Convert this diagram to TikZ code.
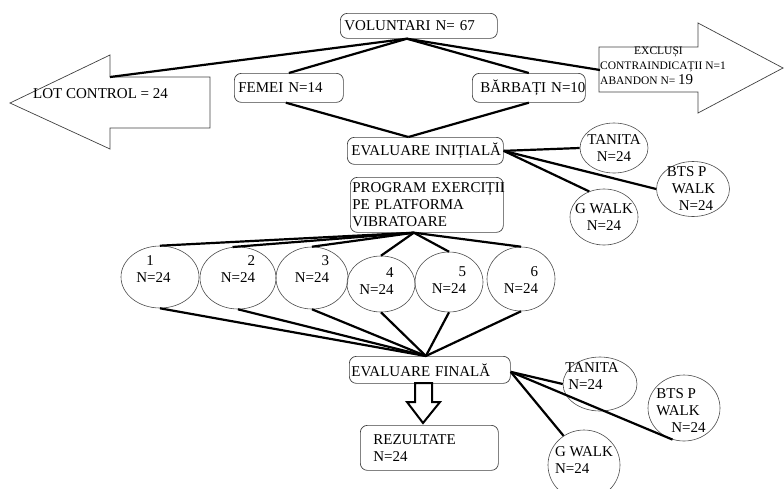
\documentclass[tikz,border=0pt]{standalone}
\usepackage{fontspec}
\setmainfont{Liberation Serif}
\usetikzlibrary{shapes.geometric}

\tikzset{
  rbox/.style={draw=black!75, line width=0.7pt, rounded corners=7pt, anchor=north west, align=left, inner xsep=4pt, inner ysep=0pt},
  oval/.style={ellipse, draw=black!70, line width=0.6pt, inner sep=0pt},
  conn/.style={line width=2.2pt},
  bigarrow/.style={draw=black!75, line width=0.7pt},
}

\begin{document}
\begin{tikzpicture}[x=1pt, y=-1pt, font=\fontsize{15}{17}\selectfont]
        \useasboundingbox (0,0) rectangle (784,488);

        % side arrows
        \draw[bigarrow] (210,77) -- (110,77) -- (110,55) -- (10,103) -- (110,149) -- (110,128) -- (210,128) -- cycle;
        \node[anchor=west, inner sep=0pt] (lot) at (33,94) {LOT CONTROL = 24};
        \coordinate (lottop) at (110,77);
        \draw[bigarrow] (599,47) -- (698,47) -- (698,23) -- (783,68) -- (698,113) -- (698,92) -- (599,92) -- cycle;
        \node[anchor=north west, align=left, inner sep=0pt, font=\fontsize{11.5}{15}\selectfont] (excl) at (600,47)
            {\hspace*{34pt}EXCLUȘI\\CONTRAINDICAȚII N=1\\ABANDON N= {\fontsize{15}{15}\selectfont 19}};
        \coordinate (excltop) at (600,70);

        % boxes
        \node[rbox, text width=149pt, minimum height=25pt] (vol) at (340,13) {\mbox{VOLUNTARI N= 67}};
        \node[rbox, text width=101pt, minimum height=29pt] (femei) at (234,73) {\mbox{FEMEI N=14}};
        \node[rbox, text width=105pt, minimum height=29pt] (barbati) at (472,73) {\hspace*{4pt}\mbox{BĂRBAȚI N=10}};
        \node[rbox, text width=148pt, minimum height=27pt] (evi) at (347,137) {\mbox{EVALUARE INIȚIALĂ}};
        \node[rbox, text width=149pt, inner xsep=2pt, minimum height=55pt] (prog) at (350,177)
            {\mbox{PROGRAM EXERCIȚII}\\PE PLATFORMA\\VIBRATOARE};
        \node[rbox, text width=157pt, inner xsep=2pt, minimum height=27pt] (evf) at (349,356) {\mbox{EVALUARE FINALĂ}};
        \node[rbox, text width=130pt, minimum height=45pt] (rez) at (360,425) {\hspace*{9pt}REZULTATE\\\hspace*{9pt}N=24};

        % tests after the first evaluation
        \node[oval, minimum width=68pt, minimum height=50pt, label={[align=center]center:TANITA\\N=24}] (tan1) at (614,148) {};
        \node[oval, minimum width=73pt, minimum height=55pt, label={[align=left,xshift=-2pt]center:BTS P\\\hspace*{5pt}WALK\\\hspace*{12pt}N=24}] (bts1) at (693,189) {};
        \node[oval, minimum width=68pt, minimum height=56pt, label={[align=center]center:G WALK\\N=24}] (gw1) at (604,217) {};

        % groups
        \node[oval, minimum width=78pt, minimum height=62pt, label={[align=left,xshift=-6.5pt,yshift=8pt]center:\hspace*{10pt}1\\N=24}] (c1) at (160,277) {};
        \node[oval, minimum width=76pt, minimum height=62pt, label={[align=right,yshift=9pt]center:2\\N=24}] (c2) at (238,278) {};
        \node[oval, minimum width=72pt, minimum height=62pt, label={[align=right,yshift=9pt]center:3\\N=24}] (c3) at (312,278) {};
        \node[oval, minimum width=68pt, minimum height=56pt, label={[align=right,xshift=-4.5pt,yshift=3pt]center:4\\N=24}] (c4) at (381,284) {};
        \node[oval, minimum width=68pt, minimum height=60pt, label={[align=right,yshift=2pt]center:5\\N=24}] (c5) at (449,282) {};
        \node[oval, minimum width=68pt, minimum height=64pt, label={[align=right,yshift=-1pt]center:6\\N=24}] (c6) at (521,279) {};

        % tests after the final evaluation
        \node[oval, minimum width=74pt, minimum height=54pt, label={[align=left,xshift=-8pt,yshift=8pt]center:TANITA\\\hspace*{3pt}N=24}] (tan2) at (600,384) {};
        \node[oval, minimum width=72pt, minimum height=66pt, label={[align=left,xshift=-3pt,yshift=-3pt]center:BTS P\\WALK\\\hspace*{15pt}N=24}] (bts2) at (684,408) {};
        \node[oval, minimum width=72pt, minimum height=70pt, label={[align=left,yshift=5pt]center:G WALK\\N=24}] (gw2) at (584,465) {};

        % connectors
        \draw[conn] ([xshift=-12pt]vol.south) -- (lottop);
        \draw[conn] ([xshift=-12pt]vol.south) -- (femei.north);
        \draw[conn] ([xshift=-12pt]vol.south) -- (barbati.north);
        \draw[conn] ([xshift=-12pt]vol.south) -- (excltop);
        \draw[conn] ([xshift=-3pt]femei.south) -- ([xshift=-17pt]evi.north);
        \draw[conn] (barbati.south) -- ([xshift=-17pt]evi.north);

        \draw[conn] (evi.east) -- (tan1.west);
        \draw[conn] (evi.east) -- (bts1.west);
        \draw[conn] (evi.east) -- (gw1.120);

        \draw[conn] ([xshift=-13pt]prog.south) -- (c1.north);
        \draw[conn] ([xshift=-13pt]prog.south) -- (c2.100);
        \draw[conn] ([xshift=-13pt]prog.south) -- (c3.north);
        \draw[conn] ([xshift=-13pt]prog.south) -- (c4.north);
        \draw[conn] ([xshift=-13pt]prog.south) -- (c5.north);
        \draw[conn] ([xshift=-13pt]prog.south) -- (c6.north);

        \draw[conn] (c1.south) -- ([xshift=-4pt]evf.north);
        \draw[conn] (c2.south) -- ([xshift=-4pt]evf.north);
        \draw[conn] (c3.south) -- ([xshift=-4pt]evf.north);
        \draw[conn] (c4.south) -- ([xshift=-4pt]evf.north);
        \draw[conn] (c5.south) -- ([xshift=-4pt]evf.north);
        \draw[conn] (c6.south) -- ([xshift=-4pt]evf.north);

        \draw[conn] ([yshift=-2pt]evf.east) -- (tan2.west);
        \draw[conn] ([yshift=-2pt]evf.east) -- (bts2.250);
        \draw[conn] ([yshift=-2pt]evf.east) -- (gw2.125);

        % open arrow to the results
        \draw[line width=2pt] (415,383) -- (432,383) -- (432,402) -- (440,402) -- (423,423) -- (407,402) -- (415,402) -- cycle;
\end{tikzpicture}
\end{document}
